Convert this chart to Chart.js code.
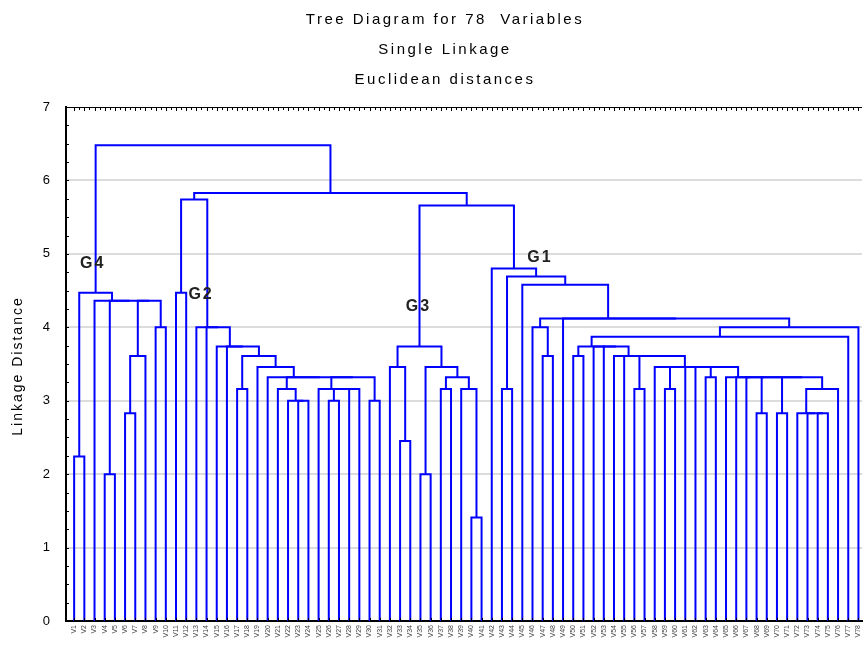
<!DOCTYPE html>
<html>
<head>
<meta charset="utf-8">
<script src="https://cdn.jsdelivr.net/npm/chart.js@4.4.0/dist/chart.umd.min.js"></script>
<style>
  html, body { margin: 0; padding: 0; background: #fff; }
</style>
</head>
<body>
<canvas id="treeChart" width="863" height="646"></canvas>
<script>
const titleLines = ['Tree Diagram for 78  Variables', 'Single Linkage', 'Euclidean distances'];
const yAxisTitle = 'Linkage Distance';
const yTickValues = [0, 1, 2, 3, 4, 5, 6, 7];

const leafLabels = [
  'V1', 'V2', 'V3', 'V4', 'V5', 'V6', 'V7', 'V8', 'V9', 'V10',
  'V11', 'V12', 'V13', 'V14', 'V15', 'V16', 'V17', 'V18', 'V19', 'V20',
  'V21', 'V22', 'V23', 'V24', 'V25', 'V26', 'V27', 'V28', 'V29', 'V30',
  'V31', 'V32', 'V33', 'V34', 'V35', 'V36', 'V37', 'V38', 'V39', 'V40',
  'V41', 'V42', 'V43', 'V44', 'V45', 'V46', 'V47', 'V48', 'V49', 'V50',
  'V51', 'V52', 'V53', 'V54', 'V55', 'V56', 'V57', 'V58', 'V59', 'V60',
  'V61', 'V62', 'V63', 'V64', 'V65', 'V66', 'V67', 'V68', 'V69', 'V70',
  'V71', 'V72', 'V73', 'V74', 'V75', 'V76', 'V77', 'V78'
];

// clusters: [linkage distance, left, right]; a number is a leaf position (1..78)
const clusterG4 = [4.47, [2.24, 1, 2],
  [4.36, 3, [4.36, [2.0, 4, 5], [4.36, [3.61, [2.83, 6, 7], 8], [4.0, 9, 10]]]]];

const g2Sub = [3.32, 20, [3.32, [3.16, 21, [3.0, 22, [3.0, 23, 24]]],
  [3.32, [3.16, 25, [3.16, [3.0, 26, 27], [3.16, 28, 29]]], [3.0, 30, 31]]]];
const g2Mid = [3.61, [3.16, 17, 18], [3.46, 19, g2Sub]];
const clusterG2 = [5.74, [4.47, 11, 12], [4.0, 13, [4.0, 14, [3.74, 15, [3.74, 16, g2Mid]]]]];

const clusterG3 = [3.74, [3.46, 32, [2.45, 33, 34]],
  [3.46, [2.0, 35, 36], [3.32, [3.16, 37, 38], [3.16, 39, [1.41, 40, 41]]]]];

const g1Tail = [3.16, [2.83, 72, [2.83, 73, [2.83, 74, 75]]], 76];
const g1F = [3.32, 65, [3.32, 66, [3.32, 67, [3.32, [2.83, 68, 69], [3.32, [2.83, 70, 71], g1Tail]]]]];
const g1N = [3.46, [3.46, 58, [3.16, 59, 60]], [3.46, [3.46, 61, 62], [3.46, [3.32, 63, 64], g1F]]];
const g1Y = [3.74, [3.61, 50, 51], [3.74, 52, [3.74, 53, [3.61, 54, [3.61, 55, [3.61, [3.16, 56, 57], g1N]]]]]];
const clusterG1 = [4.80, 42, [4.69, [3.16, 43, 44], [4.58, 45,
  [4.12, [4.0, 46, [3.61, 47, 48]], [4.12, 49, [4.0, [3.87, g1Y, 77], 78]]]]]];

const treeRoot = [6.48, clusterG4, [5.83, clusterG2, [5.66, clusterG3, clusterG1]]];

const groupNames = ['G4', 'G2', 'G3', 'G1'];
const groupNodes = [clusterG4, clusterG2[1], clusterG3, clusterG1];
const groupOffsets = [[-3, -29], [20, 2], [-1, -40], [26, -11]];

// walk the tree, one U-shaped link per merge
const nodePos = new Map();
const links = [];
function layoutTree(node) {
  if (typeof node === 'number') return { x: node, y: 0 };
  const a = layoutTree(node[1]);
  const b = layoutTree(node[2]);
  const h = node[0];
  links.push([{ x: a.x, y: a.y }, { x: a.x, y: h }, { x: b.x, y: h }, { x: b.x, y: b.y }]);
  const pos = { x: (a.x + b.x) / 2, y: h };
  nodePos.set(node, pos);
  return pos;
}
layoutTree(treeRoot);

const datasets = links.map(pts => ({
  data: pts,
  showLine: true,
  borderColor: '#0000ff',
  borderWidth: 2,
  pointRadius: 0,
  tension: 0,
  fill: false
}));

const fontFamily = "'Liberation Sans', Arial, sans-serif";

const decorPlugin = {
  id: 'decor',
  afterDraw(chart) {
    const ctx = chart.ctx;
    const area = chart.chartArea;
    const xs = chart.scales.x;
    const ys = chart.scales.y;
    ctx.save();
    // titles
    ctx.fillStyle = '#000';
    ctx.font = '15px ' + fontFamily;
    ctx.letterSpacing = '2.5px';
    ctx.textAlign = 'center';
    ctx.textBaseline = 'middle';
    titleLines.forEach((t, i) => ctx.fillText(t, 445, 20 + i * 30));

    // y axis title
    ctx.save();
    ctx.font = '14px ' + fontFamily;
    ctx.letterSpacing = '2px';
    ctx.translate(18, 366);
    ctx.rotate(-Math.PI / 2);
    ctx.fillText(yAxisTitle, 0, 0);
    ctx.restore();
    ctx.letterSpacing = '0px';

    // top frame with ruler ticks
    ctx.strokeStyle = '#000';
    ctx.lineWidth = 1;
    ctx.beginPath();
    ctx.moveTo(area.left, area.top + 0.5);
    ctx.lineTo(area.right, area.top + 0.5);
    for (let i = 0; i < leafLabels.length; i++) {
      const px = Math.round(xs.getPixelForValue(i + 1)) + 0.5;
      ctx.moveTo(px, area.top);
      ctx.lineTo(px, area.top + 4);
      const hx = Math.round(xs.getPixelForValue(i + 1.5)) + 0.5;
      ctx.moveTo(hx, area.top);
      ctx.lineTo(hx, area.top + 3);
      // bottom inward ticks
      ctx.moveTo(px, area.bottom);
      ctx.lineTo(px, area.bottom - 3);
    }
    // left inward minor ticks
    for (let v = 0; v <= 7; v += 0.25) {
      const py = Math.round(ys.getPixelForValue(v)) + 0.5;
      ctx.moveTo(area.left, py);
      ctx.lineTo(area.left + 3, py);
    }
    ctx.stroke();

    // group labels
    ctx.font = 'bold 16px ' + fontFamily;
    ctx.letterSpacing = '2px';
    ctx.fillStyle = '#222';
    groupNames.forEach((name, i) => {
      const p = nodePos.get(groupNodes[i]);
      const px = xs.getPixelForValue(p.x) + groupOffsets[i][0];
      const py = ys.getPixelForValue(p.y) + groupOffsets[i][1];
      ctx.fillText(name, px, py);
    });
    ctx.restore();
  }
};

new Chart(document.getElementById('treeChart'), {
  type: 'scatter',
  data: { datasets: datasets },
  plugins: [decorPlugin],
  options: {
    responsive: false,
    animation: false,
    devicePixelRatio: 1,
    layout: { padding: { top: 107, right: 1, left: 0, bottom: 0 } },
    plugins: {
      legend: { display: false },
      tooltip: { enabled: false },
      title: { display: false }
    },
    scales: {
      x: {
        type: 'linear',
        min: 0.2,
        max: 78.35,
        afterFit(scale) {
          scale.height = 25;
          scale.paddingLeft = 0;
          scale.paddingRight = 0;
        },
        afterBuildTicks(scale) {
          scale.ticks = leafLabels.map((_, i) => ({ value: i + 1 }));
        },
        grid: { display: false, drawTicks: false },
        border: { display: true, color: '#000', width: 2 },
        ticks: {
          autoSkip: false,
          minRotation: 90,
          maxRotation: 90,
          padding: 4,
          color: '#444',
          font: { size: 7, family: fontFamily },
          callback: v => leafLabels[v - 1]
        }
      },
      y: {
        min: 0,
        max: 7,
        afterFit(scale) { scale.width = 66; },
        afterBuildTicks(scale) {
          scale.ticks = yTickValues.map(v => ({ value: v }));
        },
        grid: {
          drawTicks: false,
          lineWidth: 2,
          color: c => (c.tick && c.tick.value > 0 && c.tick.value < 7) ? '#dcdcdc' : 'rgba(0,0,0,0)'
        },
        border: { display: true, color: '#000', width: 2 },
        ticks: {
          padding: 16,
          color: '#000',
          font: { size: 13, family: fontFamily }
        },
        title: { display: false }
      }
    }
  }
});
</script>
</body>
</html>
